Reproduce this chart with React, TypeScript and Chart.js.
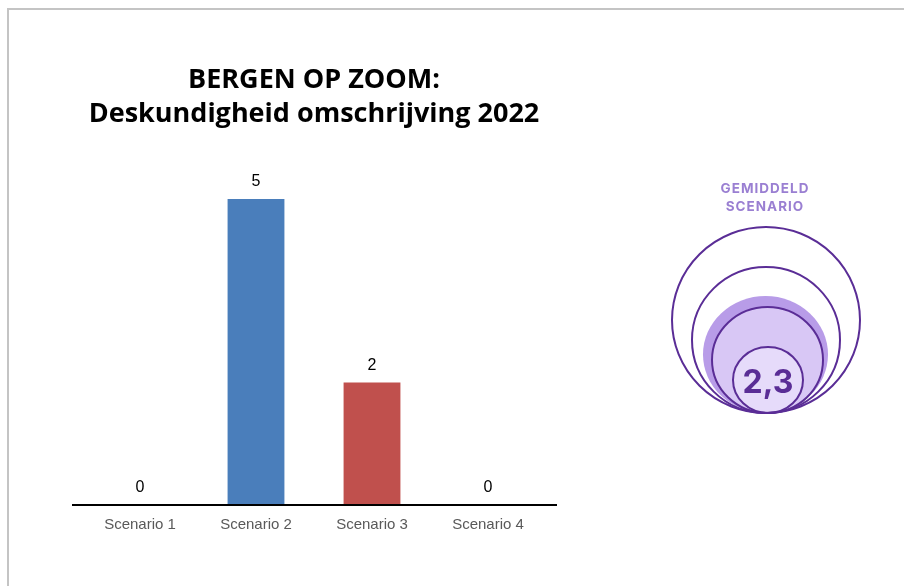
import React, { useEffect, useRef } from "react";
import { Chart, registerables } from "chart.js";

Chart.register(...registerables);

const categories = ["Scenario 1", "Scenario 2", "Scenario 3", "Scenario 4"];
const counts = [0, 5, 2, 0];
const barColors = ["#4a7ebb", "#4a7ebb", "#c0504d", "#4a7ebb"];
const titleLines = ["BERGEN OP ZOOM:", "Deskundigheid omschrijving 2022"];
const averageScenario = 2.3;
const averageLabel = ["GEMIDDELD", "SCENARIO"];

const dataLabelsPlugin = {
  id: "dataLabels",
  afterDatasetsDraw(chart: any) {
    const ctx = chart.ctx;
    const meta = chart.getDatasetMeta(0);
    ctx.save();
    ctx.font = "16px 'Liberation Sans', Arial, sans-serif";
    ctx.fillStyle = "#000";
    ctx.textAlign = "center";
    ctx.textBaseline = "middle";
    meta.data.forEach((bar: any, i: number) => {
      ctx.fillText(String(counts[i]), bar.x, bar.y - 17);
    });
    ctx.restore();
  },
};

const axisLinePlugin = {
  id: "axisLine",
  afterDatasetsDraw(chart: any) {
    const { ctx, chartArea } = chart;
    ctx.save();
    ctx.strokeStyle = "#000";
    ctx.lineWidth = 2;
    ctx.beginPath();
    ctx.moveTo(chartArea.left - 10, chartArea.bottom);
    ctx.lineTo(chartArea.right + 11, chartArea.bottom);
    ctx.stroke();
    ctx.restore();
  },
};

const averagePlugin = {
  id: "averageBadge",
  afterDraw(chart: any) {
    const ctx = chart.ctx;
    const stroke = "#5a2d96";
    const ell = (cx: number, cy: number, rx: number, ry: number) => {
      ctx.beginPath();
      ctx.ellipse(cx, cy, rx, ry, 0, 0, Math.PI * 2);
    };
    ctx.save();
    ell(765.5, 354.5, 62.5, 58.5);
    ctx.fillStyle = "#b89ce8";
    ctx.fill();
    ell(767.5, 360, 55.5, 53);
    ctx.fillStyle = "#d8c7f5";
    ctx.fill();
    ctx.lineWidth = 2;
    ctx.strokeStyle = stroke;
    ctx.stroke();
    ell(768, 380, 35, 33);
    ctx.fillStyle = "#e6dbfa";
    ctx.fill();
    ctx.stroke();
    ell(766, 340, 74, 73);
    ctx.stroke();
    ell(766, 320, 94, 93);
    ctx.stroke();
    ctx.fillStyle = "#5a2d96";
    ctx.textAlign = "center";
    ctx.textBaseline = "middle";
    ctx.font = "bold 32px Inter, 'Noto Sans', sans-serif";
    ctx.fillText(averageScenario.toFixed(1).replace(".", ","), 768, 383);
    ctx.fillStyle = "#9a7fd2";
    ctx.font = "bold 13.5px Inter, 'Noto Sans', sans-serif";
    (ctx as any).letterSpacing = "1px";
    ctx.fillText(averageLabel[0], 765, 189);
    ctx.fillText(averageLabel[1], 765, 207);
    ctx.restore();
  },
};

export default function App() {
  const ref = useRef<HTMLCanvasElement | null>(null);

  useEffect(() => {
    if (!ref.current) return;
    const chart = new Chart(ref.current, {
      type: "bar",
      data: {
        labels: categories,
        datasets: [
          {
            data: counts,
            backgroundColor: barColors,
            barPercentage: 0.49,
            categoryPercentage: 1,
          },
        ],
      },
      options: {
        animation: false,
        responsive: false,
        maintainAspectRatio: false,
        layout: { padding: { left: 82, right: 358, top: 50, bottom: 0 } },
        plugins: {
          legend: { display: false },
          tooltip: { enabled: false },
          title: {
            display: true,
            text: titleLines,
            color: "#000",
            font: { family: "'Open Sans', Lato, sans-serif", size: 27, weight: "bold", lineHeight: 1.26 },
            padding: { top: 13, bottom: 6.8 },
          },
        },
        scales: {
          x: {
            grid: { display: false, drawTicks: false },
            border: { display: false },
            ticks: {
              color: "#595959",
              padding: 11,
              font: { family: "'Liberation Sans', Arial, sans-serif", size: 15 },
            },
            afterFit: (scale: any) => {
              scale.height = 81;
            },
          },
          y: {
            display: false,
            min: 0,
            max: 6,
          },
        },
      },
      plugins: [dataLabelsPlugin, axisLinePlugin, averagePlugin],
    });
    return () => chart.destroy();
  }, []);

  return (
    <div style={{ position: "fixed", left: 0, top: 0, width: 904, height: 586, background: "#fff" }}>
      <div
        style={{
          position: "absolute",
          left: 7,
          top: 8,
          right: -10,
          bottom: -10,
          borderTop: "2px solid #c4c4c4",
          borderLeft: "2px solid #c4c4c4",
        }}
      />
      <canvas ref={ref} width={904} height={586} style={{ position: "absolute", left: 0, top: 0 }} />
    </div>
  );
}
